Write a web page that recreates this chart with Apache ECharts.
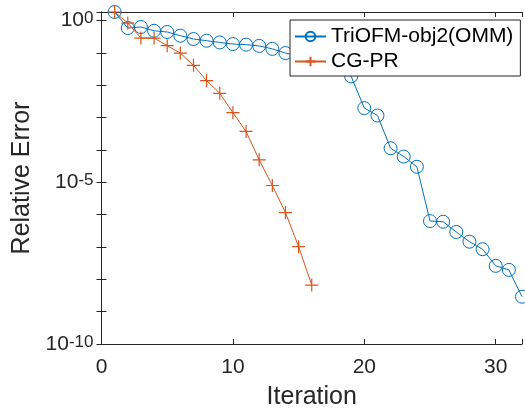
<!DOCTYPE html>
<html>
<head>
<meta charset="utf-8">
<script src="https://cdn.jsdelivr.net/npm/echarts@6/dist/echarts.min.js"></script>
<style>
html,body{margin:0;padding:0;background:#fff;}
#c{width:525px;height:415px;}
</style>
</head>
<body>
<div id="c"></div>
<script>
// Data
const iterations = [1,2,3,4,5,6,7,8,9,10,11,12,13,14,15,16,17,18,19,20,21,22,23,24,25,26,27,28,29,30,31,32];
const triofm = [1.82,0.582,0.625,0.48,0.438,0.337,0.266,0.236,0.209,0.186,0.178,0.163,0.132,0.098,0.079,0.063,0.05,0.035,0.0186,1.95e-3,1.15e-3,1.12e-4,6.2e-5,3.0e-5,6.3e-7,6.0e-7,2.9e-7,1.45e-7,8.5e-8,2.6e-8,1.95e-8,2.9e-9];
const cgprIter = [1,2,3,4,5,6,7,8,9,10,11,12,13,14,15,16];
const cgpr = [1.82,0.83,0.285,0.285,0.166,0.098,0.041,0.0138,5.6e-3,1.41e-3,3.7e-4,4.9e-5,7.9e-6,1.15e-6,1.02e-7,6.6e-9];
const seriesNames = ['TriOFM-obj2(OMM)','CG-PR'];
const xTicks = [0,10,20,30];
const yLabelExps = [0,-5,-10];

const FONT = '"Liberation Sans", Arial, Helvetica, sans-serif';
const AX = '#262626';
const chart = echarts.init(document.getElementById('c'), null, {renderer:'canvas'});

function yFmt(v){
  const l = Math.log10(v);
  const k = Math.round(l);
  if (Math.abs(l-k) > 1e-6) return '';
  if (yLabelExps.indexOf(k) < 0) return '';
  return '{b|10}{s|' + k + '}';
}
function xFmt(v){ return xTicks.indexOf(v) >= 0 ? String(v) : ''; }

const yBase = {type:'log', logBase:10, min:1e-10, max:1.82, interval:1,
  axisLine:{show:true, lineStyle:{color:AX, width:1}},
  splitLine:{show:false}, minorTick:{show:false}};
const xBase = {type:'value', min:0, max:32, interval:10,
  axisLine:{show:true, onZero:false, lineStyle:{color:AX, width:1}},
  splitLine:{show:false}};

chart.setOption({
  animation:false,
  backgroundColor:'#fff',
  textStyle:{fontFamily:FONT},
  grid:{left:101.5, top:12, width:424, height:332, containLabel:false},
  legend:{
    orient:'vertical', left:290, top:20,
    padding:[6,7,4,4], itemGap:4, itemWidth:31, itemHeight:12,
    backgroundColor:'#fff', borderColor:AX, borderWidth:1, borderRadius:0,
    textStyle:{fontFamily:FONT, fontSize:21, color:'#000', padding:[0,0,0,0]},
    data:seriesNames
  },
  xAxis:[
    Object.assign({}, xBase, {position:'bottom',
      name:'Iteration', nameLocation:'middle', nameGap:41,
      nameTextStyle:{fontFamily:FONT, fontSize:25, color:AX},
      axisTick:{show:true, inside:true, length:5, lineStyle:{color:AX}},
      axisLabel:{show:true, formatter:xFmt, fontFamily:FONT, fontSize:21, color:AX, margin:13}}),
    Object.assign({}, xBase, {position:'top',
      axisTick:{show:true, inside:true, length:5, lineStyle:{color:AX}},
      axisLabel:{show:false}})
  ],
  yAxis:[
    Object.assign({}, yBase, {position:'left',
      name:'Relative Error', nameLocation:'middle', nameGap:63,
      nameTextStyle:{fontFamily:FONT, fontSize:25, color:AX},
      axisTick:{show:true, inside:true, length:5, lineStyle:{color:AX}},
      axisLabel:{show:true, formatter:yFmt, margin:8, color:AX,
        rich:{
          b:{fontFamily:FONT, fontSize:21, color:AX, verticalAlign:'bottom', lineHeight:21},
          s:{fontFamily:FONT, fontSize:17, color:AX, verticalAlign:'top', lineHeight:17, padding:[0,0,14,0]}
        }}}),
    Object.assign({}, yBase, {position:'right',
      axisTick:{show:true, inside:true, length:5, lineStyle:{color:AX}},
      axisLabel:{show:false}})
  ],
  series:[
    {name:seriesNames[0], type:'line', xAxisIndex:0, yAxisIndex:0,
     data: iterations.map((x,i)=>[x, triofm[i]]),
     symbol:'circle', symbolSize:13, showAllSymbol:true,
     lineStyle:{color:'#0072BD', width:1},
     itemStyle:{color:'rgba(255,255,255,0)', borderColor:'#0072BD', borderWidth:1},
     z:2},
    {name:seriesNames[1], type:'line', xAxisIndex:0, yAxisIndex:0,
     data: cgprIter.map((x,i)=>[x, cgpr[i]]),
     symbol:'path://M0,6H12M6,0V12', symbolSize:13, showAllSymbol:true,
     lineStyle:{color:'#D95319', width:1},
     itemStyle:{color:'#D95319', borderColor:'#D95319', borderWidth:1.2},
     z:3}
  ]
});
</script>
</body>
</html>
